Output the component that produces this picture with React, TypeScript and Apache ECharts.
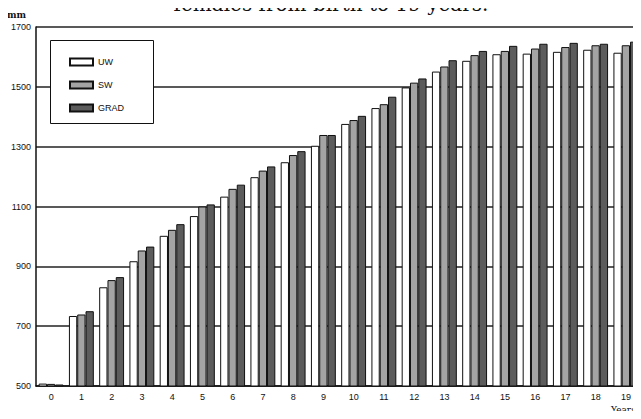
import React, { useEffect, useRef } from "react";
import * as echarts from "echarts";

const years = ["0","1","2","3","4","5","6","7","8","9","10","11","12","13","14","15","16","17","18","19"];
const uw = [508, 734, 830, 917, 1002, 1068, 1133, 1198, 1248, 1303, 1376, 1429, 1498, 1551, 1587, 1609, 1611, 1617, 1624, 1614];
const sw = [507, 739, 854, 953, 1022, 1100, 1159, 1220, 1272, 1339, 1389, 1442, 1514, 1568, 1606, 1620, 1628, 1633, 1639, 1639];
const grad = [505, 750, 864, 966, 1041, 1107, 1173, 1234, 1285, 1339, 1403, 1467, 1528, 1589, 1620, 1637, 1644, 1647, 1644, 1651];
const titleText = "females from birth to 19 years.";

export default function App() {
  const ref = useRef<HTMLDivElement>(null);
  useEffect(() => {
    if (!ref.current) return;
    const chart = echarts.init(ref.current, null, { renderer: "svg" });
    const sans = "Liberation Sans, Arial, sans-serif";
    const serif = "DejaVu Serif, serif";
    const barBase = { type: "bar", barWidth: 8.3, barGap: "0%", z: 2 };
    chart.setOption({
      animation: false,
      backgroundColor: "#fff",
      grid: { left: 36, top: 27, width: 606, height: 359, containLabel: false },
      legend: {
        orient: "vertical",
        left: 64,
        top: 51,
        z: 5,
        itemWidth: 23,
        itemHeight: 7,
        itemGap: 11,
        icon: "rect",
        textStyle: { fontFamily: sans, fontSize: 9, color: "#111", lineHeight: 12 },
        data: ["UW", "SW", "GRAD"],
      },
      xAxis: {
        type: "category",
        data: years,
        axisLine: { show: true, lineStyle: { color: "#111", width: 1.5 } },
        axisTick: { show: false },
        axisLabel: { fontFamily: sans, fontSize: 9, color: "#111", margin: 6 },
        splitLine: { show: false },
      },
      yAxis: {
        type: "value",
        min: 500,
        max: 1700,
        interval: 200,
        axisLine: { show: true, lineStyle: { color: "#111", width: 1.5 } },
        axisTick: { show: false },
        axisLabel: { fontFamily: sans, fontSize: 9, color: "#111", margin: 5, formatter: (v: number) => String(v) },
        splitLine: { show: true, lineStyle: { color: "#222", width: 1.5 } },
      },
      graphic: [
        {
          type: "rect",
          z: 4,
          shape: { x: 50.5, y: 40.5, width: 103, height: 83 },
          style: { fill: "#fff", stroke: "#111", lineWidth: 1 },
        },
        {
          type: "text",
          z: 5,
          x: 331,
          y: 3.5,
          style: { text: titleText, font: "20px " + serif, fill: "#111", textAlign: "center", textVerticalAlign: "middle" },
        },
        {
          type: "text",
          z: 5,
          x: 7,
          y: 15,
          style: { text: "mm", font: "bold 9px " + serif, fill: "#111", textAlign: "left", textVerticalAlign: "middle" },
        },
        {
          type: "text",
          z: 5,
          x: 611,
          y: 410,
          style: { text: "Years", font: "9px " + serif, fill: "#111", textAlign: "left", textVerticalAlign: "middle" },
        },
      ],
      series: [
        { ...barBase, name: "UW", data: uw, itemStyle: { color: "#ffffff", borderColor: "#111", borderWidth: 1 } },
        { ...barBase, name: "SW", data: sw, itemStyle: { color: "#a4a4a4", borderColor: "#111", borderWidth: 1 } },
        { ...barBase, name: "GRAD", data: grad, itemStyle: { color: "#5c5c5c", borderColor: "#111", borderWidth: 1 } },
      ],
    });
    return () => chart.dispose();
  }, []);
  return <div ref={ref} style={{ width: 641, height: 419, margin: -8 }} />;
}
